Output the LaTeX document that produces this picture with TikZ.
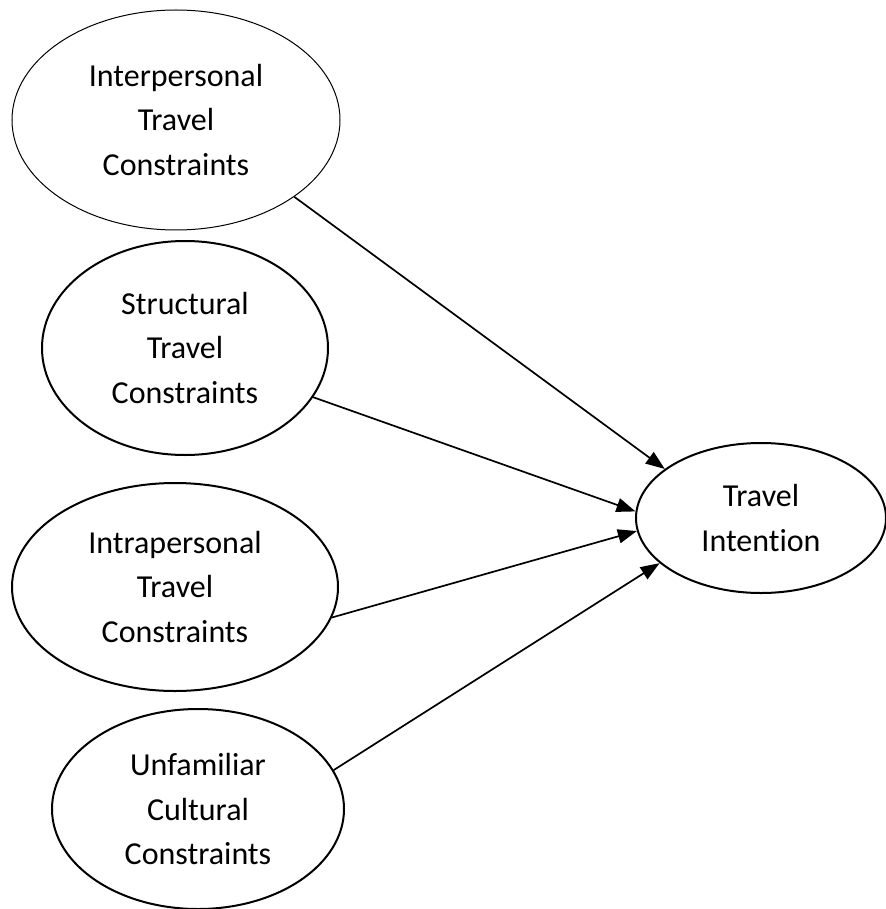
\documentclass[tikz,border=0pt]{standalone}
\usepackage{fontspec}
\setmainfont{Carlito}[Ligatures=NoCommon]
\usetikzlibrary{shapes.geometric,arrows.meta}
\begin{document}
\begin{tikzpicture}[x=0.5pt,y=-0.5pt,
  construct/.style={ellipse, draw, line width=1pt, inner sep=0pt, align=center,
    font=\fontsize{16pt}{22.25pt}\selectfont},
  effect/.style={-{Triangle[length=9.5pt,width=7pt]}, line width=0.85pt}]
\useasboundingbox (0,0) rectangle (886,909);

% constraint constructs
\node[construct, line width=0.5pt, minimum width=164pt, minimum height=110pt] (inter) at (176,120)
  {Interpersonal\\Travel\\Constraints};
\node[construct, minimum width=143pt, minimum height=107pt] (struct) at (185,348)
  {Structural\\Travel\\Constraints};
\node[construct, minimum width=163pt, minimum height=104pt] (intra) at (175,587)
  {Intrapersonal\\Travel\\Constraints};
\node[construct, minimum width=146pt, minimum height=100pt] (cult) at (198,809)
  {Unfamiliar\\Cultural\\Constraints};

% outcome construct
\node[construct, minimum width=125pt, minimum height=75pt] (intent) at (761,518)
  {Travel\\Intention};

% paths
\draw[effect] (inter.-33.6) -- (intent.153.7);
\draw[effect] (struct.-21.5) -- (intent.177.4);
\draw[effect] (intra.-11.6) -- (intent.-174.1);
\draw[effect] (cult.16.5) -- (intent.-156);
\end{tikzpicture}
\end{document}
